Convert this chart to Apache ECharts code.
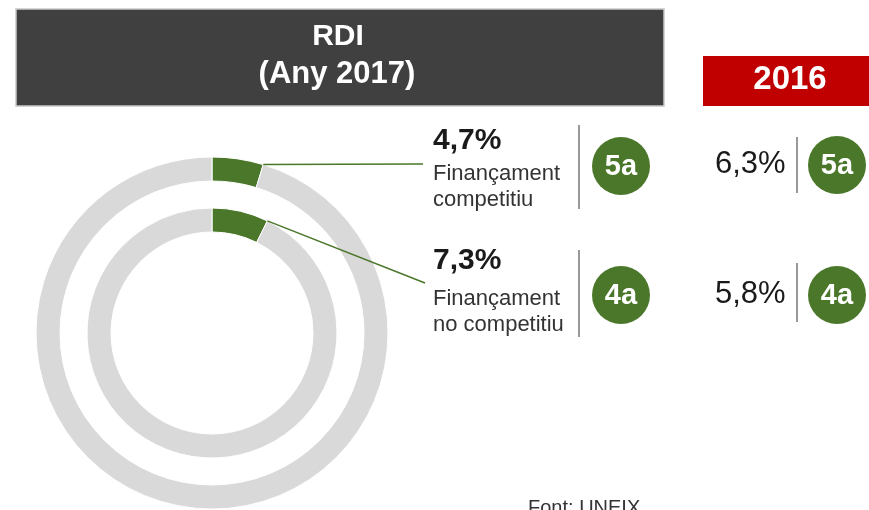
<!DOCTYPE html>
<html>
<head>
<meta charset="utf-8">
<title>RDI</title>
<script src="https://cdn.jsdelivr.net/npm/echarts@6/dist/echarts.min.js"></script>
<style>
  html, body { margin: 0; padding: 0; background: #fff; }
  #chart { width: 869px; height: 510px; }
</style>
</head>
<body>
<div id="chart"></div>
<script>
// dades
const categories = ['Finançament\ncompetitiu', 'Finançament\nno competitiu'];
const share2017 = [4.7, 7.3];
const rank2017 = ['5a', '4a'];
const share2016 = [6.3, 5.8];
const rank2016 = ['5a', '4a'];

const green = '#4a7729';
const grey = '#d9d9d9';
const ink = '#1a1a1a';
const font = "'Liberation Sans', Arial, sans-serif";

// layout
const center = [212, 333];
const radii = [[152, 176], [101, 125]];
const lineEnd = [[423, 164], [425, 283]];
const pctY = [141, 261];
const labelTop = [161, 286];
const sepL = [[125, 209], [250, 337]];
const badgeL = [166, 295];
const pct16Y = [164, 294];
const sepR = [[137, 193], [263, 322]];
const badgeR = [165, 295];

const fmt = v => v.toFixed(1).replace('.', ',') + '%';

const chart = echarts.init(document.getElementById('chart'));

const series = share2017.map((v, i) => ({
  type: 'pie',
  silent: true,
  z: 2,
  center: center,
  radius: radii[i],
  startAngle: 90,
  clockwise: true,
  label: { show: false },
  labelLine: { show: false },
  itemStyle: { borderColor: '#fff', borderWidth: 1 },
  data: [
    { name: categories[i], value: v, itemStyle: { color: green } },
    { name: 'resta', value: 100 - v, itemStyle: { color: grey } }
  ]
}));

const graphic = [
  {
    type: 'rect',
    shape: { x: 16, y: 9, width: 648, height: 97 },
    style: { fill: '#404040', stroke: '#c8c8c8', lineWidth: 1.5 }
  },
  {
    type: 'text', x: 338, y: 37,
    style: { text: 'RDI', fill: '#fff', font: 'bold 30px ' + font, textAlign: 'center', textVerticalAlign: 'middle' }
  },
  {
    type: 'text', x: 337, y: 74,
    style: { text: '(Any 2017)', fill: '#fff', font: 'bold 31px ' + font, textAlign: 'center', textVerticalAlign: 'middle' }
  },
  {
    type: 'rect',
    shape: { x: 703, y: 56, width: 170, height: 50 },
    style: { fill: '#c00000' }
  },
  {
    type: 'text', x: 790, y: 80,
    style: { text: '2016', fill: '#fff', font: 'bold 33px ' + font, textAlign: 'center', textVerticalAlign: 'middle' }
  },
  {
    type: 'text', x: 528, y: 498,
    style: { text: 'Font: UNEIX', fill: '#333', font: '20px ' + font, textAlign: 'left', textVerticalAlign: 'top' }
  }
];

share2017.forEach((v, i) => {
  // leader line from the end of the green arc
  const a = v / 100 * Math.PI * 2;
  const r = radii[i][1];
  graphic.push({
    type: 'line',
    z: 10,
    shape: {
      x1: center[0] + r * Math.sin(a), y1: center[1] - r * Math.cos(a),
      x2: lineEnd[i][0], y2: lineEnd[i][1]
    },
    style: { stroke: green, lineWidth: 1.5 }
  });
  graphic.push({
    type: 'text', x: 433, y: pctY[i],
    style: { text: fmt(v), fill: ink, font: 'bold 30px ' + font, textAlign: 'left', textVerticalAlign: 'middle' }
  });
  graphic.push({
    type: 'text', x: 433, y: labelTop[i],
    style: { text: categories[i], fill: '#333', font: '22px ' + font, lineHeight: 26, textAlign: 'left', textVerticalAlign: 'top' }
  });
  graphic.push({
    type: 'line',
    shape: { x1: 579, y1: sepL[i][0], x2: 579, y2: sepL[i][1] },
    style: { stroke: '#777', lineWidth: 1.5 }
  });
  graphic.push({
    type: 'circle',
    shape: { cx: 621, cy: badgeL[i], r: 29 },
    style: { fill: green }
  });
  graphic.push({
    type: 'text', x: 621, y: badgeL[i] + 1,
    style: { text: rank2017[i], fill: '#fff', font: 'bold 29px ' + font, textAlign: 'center', textVerticalAlign: 'middle' }
  });

  // 2016 column
  graphic.push({
    type: 'text', x: 715, y: pct16Y[i],
    style: { text: fmt(share2016[i]), fill: ink, font: '31px ' + font, textAlign: 'left', textVerticalAlign: 'middle' }
  });
  graphic.push({
    type: 'line',
    shape: { x1: 797, y1: sepR[i][0], x2: 797, y2: sepR[i][1] },
    style: { stroke: '#777', lineWidth: 1.5 }
  });
  graphic.push({
    type: 'circle',
    shape: { cx: 837, cy: badgeR[i], r: 29 },
    style: { fill: green }
  });
  graphic.push({
    type: 'text', x: 837, y: badgeR[i] + 1,
    style: { text: rank2016[i], fill: '#fff', font: 'bold 29px ' + font, textAlign: 'center', textVerticalAlign: 'middle' }
  });
});

chart.setOption({
  animation: false,
  backgroundColor: '#fff',
  series: series,
  graphic: graphic
});
</script>
</body>
</html>
